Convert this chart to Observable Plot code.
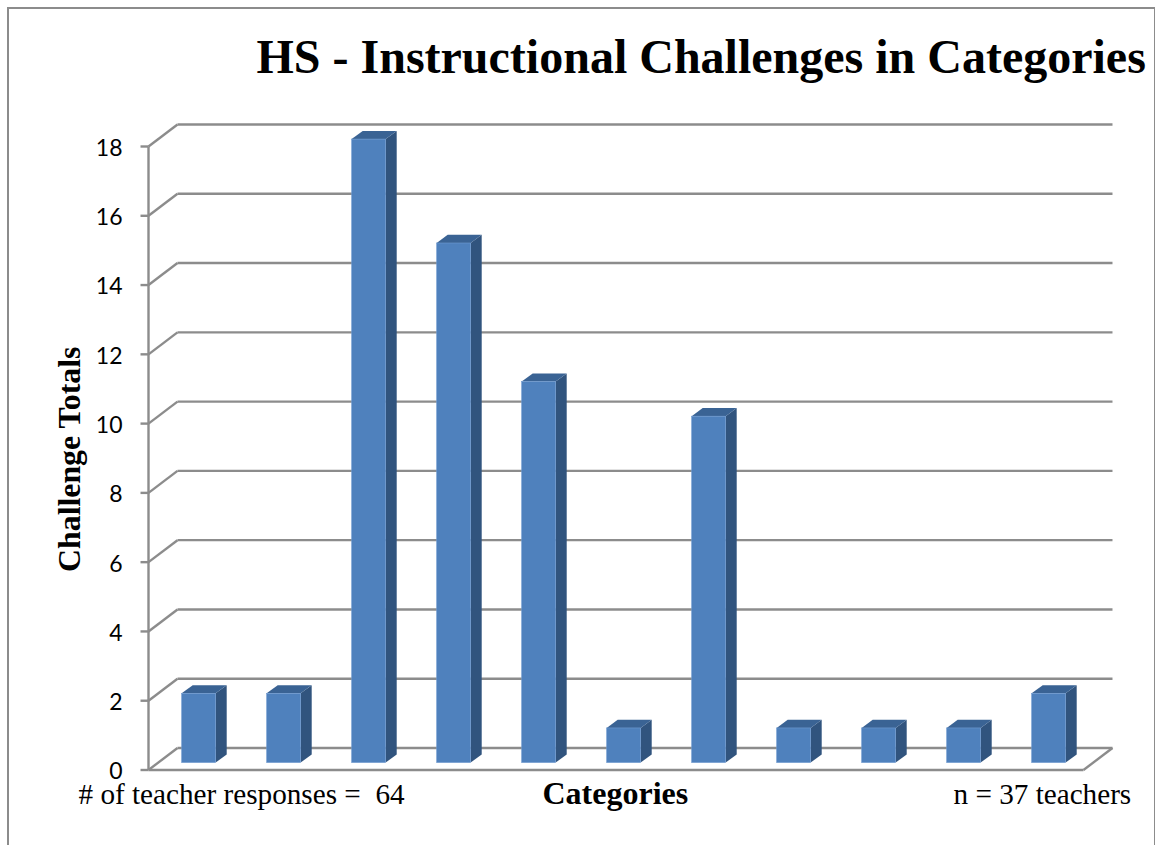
<!DOCTYPE html>
<html>
<head>
<meta charset="utf-8">
<script src="https://cdn.jsdelivr.net/npm/d3@7"></script>
<script src="https://cdn.jsdelivr.net/npm/@observablehq/plot@0.6"></script>
<style>
  html, body { margin: 0; padding: 0; background: #fff; overflow: hidden; }
  #frame { position: absolute; left: 7px; top: 7px; width: 1145px; height: 838px;
           border: solid #8c8c8c; border-width: 2px 2px 0 2px; box-sizing: content-box; }
  #chart { position: absolute; left: 0; top: 0; }
  #chart svg { background: transparent; display: block; }
</style>
</head>
<body>
<div id="frame"></div>
<div id="chart"></div>
<script>
const categories = [1, 2, 3, 4, 5, 6, 7, 8, 9, 10, 11];
const challengeTotals = [2, 2, 18, 15, 11, 1, 10, 1, 1, 1, 2];
const yTicks = [0, 2, 4, 6, 8, 10, 12, 14, 16, 18];

const serif = "'Liberation Serif', serif";
const gridColor = "#8c8c8c";

// Pseudo-3D geometry, expressed in the units of the two scales
const wallX = 0.341, wallY = 0.635;     // how far the back wall is shifted
const barLift = 0.2;                    // bars stand slightly behind the front edge
const barLeft = 0.396, barRight = 0.796;
const depthX = 0.13, depthY = 0.235;    // bar depth
const tickLen = 0.094;

const bars = categories.map((c, i) => ({
  c, value: challengeTotals[i],
  x1: i + barLeft, x2: i + barRight,
  y1: barLift, y2: challengeTotals[i] + barLift
}));
const sides = bars.flatMap(b => [
  {c: b.c, x: b.x2, y1: b.y1, y2: b.y2},
  {c: b.c, x: b.x2 + depthX, y1: b.y1 + depthY, y2: b.y2 + depthY}
]);
const tops = bars.flatMap(b => [
  {c: b.c, y: b.y2, x1: b.x1, x2: b.x2},
  {c: b.c, y: b.y2 + depthY, x1: b.x1 + depthX, x2: b.x2 + depthX}
]);

const n = categories.length;
const lineW = 2.4;

const plot = Plot.plot({
  width: 1155,
  height: 845,
  marginTop: 146,
  marginBottom: 75.5,
  marginLeft: 148,
  marginRight: 72,
  style: {background: "transparent", overflow: "visible"},
  x: {domain: [0, n], axis: null},
  y: {domain: [0, 18], ticks: yTicks, label: null, axis: null},
  marks: [
    // back wall grid
    Plot.link(yTicks, {x1: wallX, x2: n + wallX, y1: d => d + wallY, y2: d => d + wallY,
      stroke: gridColor, strokeWidth: lineW}),
    // left wall diagonals
    Plot.link(yTicks, {x1: 0, x2: wallX, y1: d => d, y2: d => d + wallY,
      stroke: gridColor, strokeWidth: lineW}),
    // floor front edge and right diagonal
    Plot.link([0], {x1: 0, x2: n, y1: 0, y2: 0, stroke: gridColor, strokeWidth: lineW}),
    Plot.link([0], {x1: n, x2: n + wallX, y1: 0, y2: wallY, stroke: gridColor, strokeWidth: lineW}),
    // y axis line and tick marks
    Plot.link([0], {x1: 0, x2: 0, y1: 0, y2: 18, stroke: gridColor, strokeWidth: lineW}),
    Plot.link(yTicks, {x1: -tickLen, x2: 0, y1: d => d, y2: d => d, stroke: gridColor, strokeWidth: lineW}),
    // tick labels
    Plot.axisY({ticks: yTicks, tickSize: 0, tickPadding: 26, dy: 2, label: null, anchor: "left",
      fontSize: 23, fill: "#000", fontFamily: "Lato, sans-serif"}),
    // bars
    Plot.areaY(sides, {x: "x", y1: "y1", y2: "y2", z: "c", fill: "#31547e", curve: "linear"}),
    Plot.areaX(tops, {y: "y", x1: "x1", x2: "x2", z: "c", fill: "#3a6394", curve: "linear"}),
    Plot.rect(bars, {x1: "x1", x2: "x2", y1: "y1", y2: "y2", fill: "#4f81bd",
      stroke: "#6f9ad0", strokeWidth: 0.6}),
    // title and labels
    Plot.text(["HS - Instructional Challenges in Categories"], {
      frameAnchor: "top-left", dx: 108, dy: -108, textAnchor: "start", lineAnchor: "top",
      fontFamily: serif, fontWeight: "bold", fontSize: 48, fill: "#000"}),
    Plot.text(["Challenge Totals"], {
      frameAnchor: "left", dx: -79, dy: 1, rotate: -90, textAnchor: "middle",
      fontFamily: serif, fontWeight: "bold", fontSize: 31.8, fill: "#000"}),
    Plot.text(["# of teacher responses =  64"], {
      frameAnchor: "bottom-left", dx: -70, dy: 33.5, textAnchor: "start", lineAnchor: "bottom",
      fontFamily: serif, fontSize: 29.2, fill: "#000", style: {whiteSpace: "pre"}}),
    Plot.text(["Categories"], {
      frameAnchor: "bottom-left", dx: 394, dy: 33.5, textAnchor: "start", lineAnchor: "bottom",
      fontFamily: serif, fontWeight: "bold", fontSize: 32, fill: "#000"}),
    Plot.text(["n = 37 teachers"], {
      frameAnchor: "bottom-left", dx: 805, dy: 33.5, textAnchor: "start", lineAnchor: "bottom",
      fontFamily: serif, fontSize: 29.2, fill: "#000"})
  ]
});
document.getElementById("chart").append(plot);
</script>
</body>
</html>
